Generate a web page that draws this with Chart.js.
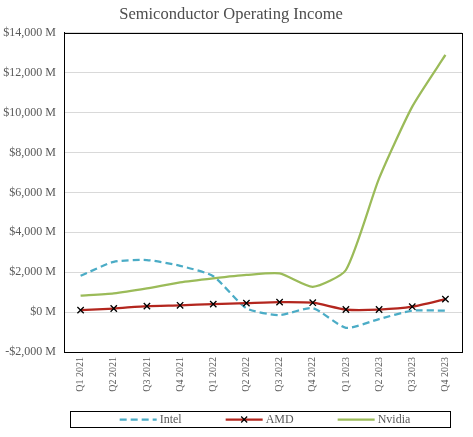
<!DOCTYPE html>
<html>
<head>
<meta charset="utf-8">
<script src="https://cdn.jsdelivr.net/npm/chart.js@4"></script>
<style>
  html, body { margin: 0; padding: 0; background: #fff; }
  #wrap { width: 473px; height: 437px; }
</style>
</head>
<body>
<div id="wrap"><canvas id="chart"></canvas></div>
<script>
// quarters on the x axis
const quarters = ['Q1 2021','Q2 2021','Q3 2021','Q4 2021','Q1 2022','Q2 2022','Q3 2022','Q4 2022','Q1 2023','Q2 2023','Q3 2023','Q4 2023'];

// operating income, $ millions
const intel  = [1820, 2520, 2610, 2320, 1800,  190, -150,  200, -790, -350,    70,    70];
const amd    = [ 100,  180,  300,  340,  400,  450,  500,  470,  130,  130,   270,   650];
const nvidia = [ 820,  940, 1190, 1490, 1690, 1860, 1940, 1270, 2110, 6700, 10300, 12890];

const yMin = -2000, yMax = 14000, yStep = 2000;

const FONT = "'Liberation Serif', 'Times New Roman', serif";
const GREY = '#595959';
const SMOOTH = 0.2;

function money(v) {
  const s = '$' + Math.abs(v).toLocaleString('en-US') + ' M';
  return v < 0 ? '-' + s : s;
}

// plot frame + legend box (Excel style)
const excelBits = {
  id: 'excelBits',
  afterDatasetsDraw(chart) {
    const {ctx, chartArea: a} = chart;
    ctx.save();
    ctx.strokeStyle = '#000';
    ctx.lineWidth = 1;
    ctx.strokeRect(Math.round(a.left) + 0.5, Math.round(a.top) + 0.5,
                   Math.round(a.right - a.left), Math.round(a.bottom - a.top));
    ctx.restore();
  },
  afterDraw(chart) {
    const {ctx} = chart;
    const box = {l: 70.5, t: 411.5, r: 450.5, b: 427.5};
    ctx.save();
    ctx.strokeStyle = '#000';
    ctx.lineWidth = 1;
    ctx.strokeRect(box.l, box.t, box.r - box.l, box.b - box.t);

    ctx.font = '12px ' + FONT;
    ctx.textBaseline = 'middle';
    const sample = 37, gap = 3, between = 44;
    const items = chart.data.datasets.map(ds => ({ds, w: sample + gap + ctx.measureText(ds.label).width}));
    const total = items.reduce((s, it) => s + it.w, 0) + between * (items.length - 1);
    let x = 265 - total / 2;
    const cy = (box.t + box.b) / 2;
    items.forEach(({ds, w}) => {
      ctx.strokeStyle = ds.borderColor;
      ctx.lineWidth = ds.borderWidth;
      ctx.setLineDash(ds.borderDash || []);
      ctx.beginPath();
      ctx.moveTo(x, cy);
      ctx.lineTo(x + sample, cy);
      ctx.stroke();
      ctx.setLineDash([]);
      if (ds.pointStyle === 'crossRot') {
        const mx = x + sample / 2, r = 3;
        ctx.strokeStyle = '#000';
        ctx.lineWidth = 1.2;
        ctx.beginPath();
        ctx.moveTo(mx - r, cy - r); ctx.lineTo(mx + r, cy + r);
        ctx.moveTo(mx - r, cy + r); ctx.lineTo(mx + r, cy - r);
        ctx.stroke();
      }
      ctx.fillStyle = GREY;
      ctx.fillText(ds.label, x + sample + gap, cy + 0.5);
      x += w + between;
    });
    ctx.restore();
  }
};

new Chart(document.getElementById('chart'), {
  type: 'line',
  data: {
    labels: quarters,
    datasets: [
      {label: 'Intel', data: intel, borderColor: '#4BACC6', borderWidth: 2.25,
       borderDash: [7, 4], pointRadius: 0, tension: SMOOTH, order: 3},
      {label: 'AMD', data: amd, borderColor: '#B3261E', borderWidth: 2.25,
       pointStyle: 'crossRot', pointRadius: 4.5, pointBorderColor: '#000',
       pointBorderWidth: 1.3, pointBackgroundColor: '#000', tension: SMOOTH, order: 1},
      {label: 'Nvidia', data: nvidia, borderColor: '#9BBB59', borderWidth: 2.25,
       pointRadius: 0, tension: SMOOTH, order: 2}
    ]
  },
  options: {
    responsive: true,
    maintainAspectRatio: false,
    animation: false,
    layout: {padding: {left: 0, right: 11, top: 0, bottom: 0}},
    plugins: {
      legend: {display: false},
      tooltip: {enabled: false},
      title: {
        display: true,
        text: 'Semiconductor Operating Income',
        color: '#4d4d4d',
        font: {family: FONT, size: 16.5, weight: 'normal'},
        padding: {top: 5, bottom: 8}
      }
    },
    scales: {
      x: {
        offset: true,
        grid: {display: false, drawTicks: false},
        border: {display: true, color: '#000'},
        ticks: {
          minRotation: 90, maxRotation: 90, autoSkip: false, padding: 5,
          color: GREY, font: {family: FONT, size: 10}
        },
        afterFit: s => { s.height = 85; }
      },
      y: {
        min: yMin, max: yMax,
        grid: {color: '#D9D9D9', lineWidth: 1, drawTicks: false},
        border: {display: true, color: '#000'},
        ticks: {
          stepSize: yStep, padding: 8, color: GREY,
          font: {family: FONT, size: 12},
          callback: v => money(v)
        },
        afterFit: s => { s.width = 64; }
      }
    }
  },
  plugins: [excelBits]
});
</script>
</body>
</html>
